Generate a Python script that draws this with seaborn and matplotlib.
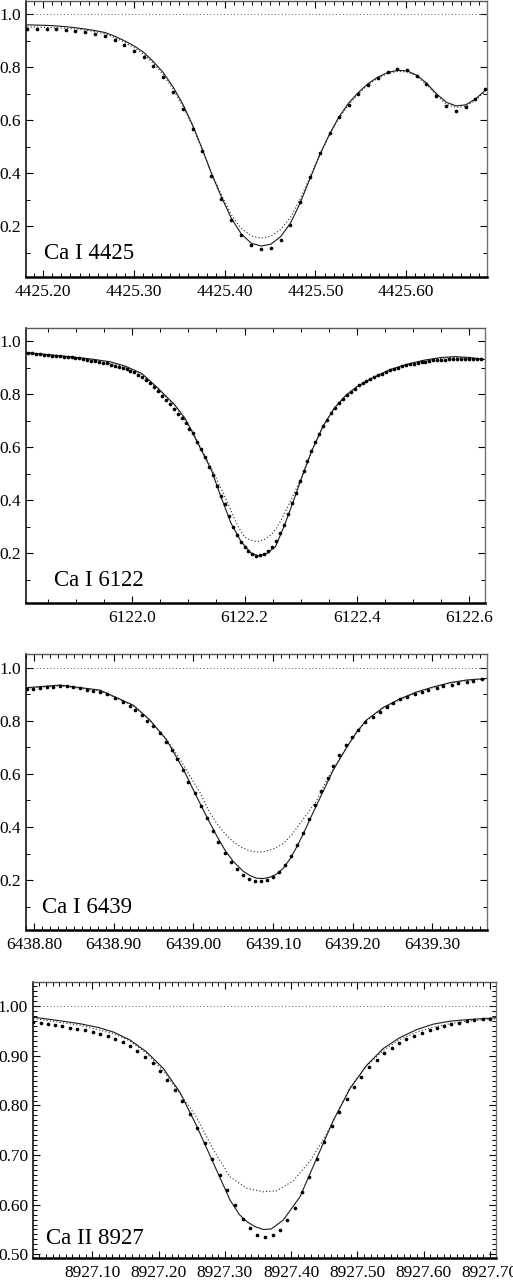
import numpy as np
import pandas as pd
import matplotlib
matplotlib.use("Agg")
import matplotlib.pyplot as plt
import seaborn as sns
from matplotlib.ticker import MultipleLocator, FormatStrFormatter

# ---------------- data ----------------
# Ca I 4425
x4425 = [4425.1824, 4425.1927, 4425.2037, 4425.2139, 4425.2249, 4425.2355, 4425.2465, 4425.2575,
         4425.2681, 4425.2788, 4425.2894, 4425.3004, 4425.3110, 4425.3212, 4425.3322, 4425.3432,
         4425.3542, 4425.3648, 4425.3751, 4425.3853, 4425.3963, 4425.4070, 4425.4179, 4425.4293,
         4425.4403, 4425.4509, 4425.4615, 4425.4722, 4425.4828, 4425.4938, 4425.5048, 4425.5158,
         4425.5260, 4425.5366, 4425.5473, 4425.5579, 4425.5685, 4425.5795, 4425.5901, 4425.6011,
         4425.6117, 4425.6223, 4425.6333, 4425.6440, 4425.6549, 4425.6656, 4425.6762, 4425.6868]
obs4425 = [0.943, 0.946, 0.946, 0.943, 0.941, 0.937, 0.932, 0.927, 0.918, 0.901, 0.883, 0.863,
           0.838, 0.803, 0.762, 0.707, 0.642, 0.567, 0.482, 0.391, 0.303, 0.225, 0.165, 0.128,
           0.112, 0.118, 0.148, 0.206, 0.292, 0.386, 0.475, 0.551, 0.611, 0.658, 0.698, 0.732,
           0.760, 0.782, 0.792, 0.789, 0.767, 0.735, 0.691, 0.654, 0.636, 0.649, 0.681, 0.719]
fit4425 = [0.960, 0.959, 0.958, 0.956, 0.953, 0.949, 0.944, 0.938, 0.931, 0.917, 0.900, 0.880,
           0.855, 0.822, 0.780, 0.725, 0.658, 0.580, 0.492, 0.400, 0.310, 0.232, 0.172, 0.135,
           0.125, 0.132, 0.160, 0.210, 0.285, 0.378, 0.470, 0.550, 0.613, 0.665, 0.705, 0.738,
           0.762, 0.780, 0.788, 0.786, 0.770, 0.740, 0.700, 0.668, 0.654, 0.658, 0.680, 0.712]
alt4425 = [0.952, 0.951, 0.950, 0.949, 0.947, 0.944, 0.940, 0.934, 0.926, 0.912, 0.894, 0.873,
           0.848, 0.815, 0.772, 0.717, 0.650, 0.575, 0.490, 0.402, 0.318, 0.245, 0.192, 0.163,
           0.155, 0.162, 0.187, 0.232, 0.300, 0.385, 0.470, 0.547, 0.608, 0.659, 0.700, 0.733,
           0.758, 0.776, 0.784, 0.782, 0.766, 0.735, 0.694, 0.661, 0.648, 0.652, 0.675, 0.708]

# Ca I 6122
x6122_obs = [6121.815, 6121.822, 6121.829, 6121.836, 6121.843, 6121.850, 6121.857, 6121.864,
             6121.871, 6121.878, 6121.885, 6121.892, 6121.899, 6121.906, 6121.913, 6121.920,
             6121.927, 6121.934, 6121.941, 6121.948, 6121.955, 6121.962, 6121.969, 6121.976,
             6121.983, 6121.990, 6121.997, 6122.004, 6122.011, 6122.018, 6122.025, 6122.032,
             6122.039, 6122.046, 6122.053, 6122.060, 6122.067, 6122.074, 6122.081, 6122.088,
             6122.095, 6122.102, 6122.109, 6122.116, 6122.123, 6122.130, 6122.137, 6122.144,
             6122.151, 6122.158, 6122.165, 6122.172, 6122.179, 6122.186, 6122.193, 6122.200,
             6122.207, 6122.214, 6122.221, 6122.228, 6122.235, 6122.242, 6122.249, 6122.256,
             6122.263, 6122.270, 6122.277, 6122.284, 6122.291, 6122.298, 6122.305, 6122.312,
             6122.319, 6122.326, 6122.333, 6122.340, 6122.347, 6122.354, 6122.361, 6122.368,
             6122.375, 6122.382, 6122.389, 6122.396, 6122.403, 6122.410, 6122.417, 6122.424,
             6122.431, 6122.438, 6122.445, 6122.452, 6122.459, 6122.466, 6122.473, 6122.480,
             6122.487, 6122.494, 6122.501, 6122.508, 6122.515, 6122.522, 6122.529, 6122.536,
             6122.543, 6122.550, 6122.557, 6122.564, 6122.571, 6122.578, 6122.585, 6122.592,
             6122.599, 6122.606, 6122.613, 6122.620]
obs6122 = [0.954, 0.953, 0.952, 0.950, 0.949, 0.947, 0.945, 0.944, 0.943, 0.941, 0.940, 0.938,
           0.937, 0.935, 0.932, 0.929, 0.926, 0.924, 0.922, 0.919, 0.916, 0.911, 0.906, 0.902,
           0.898, 0.894, 0.888, 0.882, 0.873, 0.864, 0.853, 0.840, 0.827, 0.810, 0.792, 0.779,
           0.763, 0.743, 0.725, 0.709, 0.692, 0.670, 0.652, 0.621, 0.595, 0.563, 0.527, 0.495,
           0.452, 0.416, 0.386, 0.340, 0.300, 0.269, 0.243, 0.225, 0.210, 0.198, 0.191, 0.193,
           0.199, 0.209, 0.225, 0.248, 0.278, 0.306, 0.350, 0.388, 0.428, 0.471, 0.512, 0.548,
           0.586, 0.618, 0.651, 0.680, 0.703, 0.727, 0.747, 0.765, 0.781, 0.796, 0.808, 0.821,
           0.834, 0.840, 0.848, 0.855, 0.864, 0.871, 0.876, 0.882, 0.890, 0.894, 0.900, 0.905,
           0.908, 0.912, 0.915, 0.918, 0.920, 0.922, 0.925, 0.927, 0.928, 0.929, 0.930, 0.931,
           0.931, 0.931, 0.931, 0.931, 0.931, 0.931, 0.932, 0.932]
x6122_fit = [6121.812, 6121.870, 6121.928, 6121.960, 6121.987, 6122.017, 6122.046, 6122.076,
             6122.094, 6122.105, 6122.123, 6122.141, 6122.158, 6122.176, 6122.194, 6122.211,
             6122.225, 6122.240, 6122.255, 6122.270, 6122.285, 6122.300, 6122.320, 6122.340,
             6122.360, 6122.380, 6122.400, 6122.430, 6122.460, 6122.490, 6122.520, 6122.550,
             6122.575, 6122.600, 6122.627]
fit6122 = [0.956, 0.945, 0.932, 0.922, 0.906, 0.878, 0.822, 0.759, 0.709, 0.665, 0.589, 0.514,
           0.413, 0.313, 0.244, 0.202, 0.190, 0.200, 0.225, 0.300, 0.385, 0.475, 0.588, 0.680,
           0.748, 0.795, 0.828, 0.864, 0.893, 0.913, 0.928, 0.938, 0.941, 0.938, 0.930]
x6122_alt = [6121.812, 6121.870, 6121.928, 6121.987, 6122.017, 6122.046, 6122.076, 6122.105,
             6122.123, 6122.141, 6122.158, 6122.170, 6122.180, 6122.190, 6122.200, 6122.210,
             6122.222, 6122.235, 6122.247, 6122.256, 6122.265, 6122.277, 6122.288, 6122.300,
             6122.320, 6122.340, 6122.360, 6122.380, 6122.400, 6122.430, 6122.460, 6122.490,
             6122.520, 6122.550, 6122.575, 6122.600, 6122.627]
alt6122 = [0.955, 0.944, 0.930, 0.903, 0.874, 0.819, 0.757, 0.668, 0.595, 0.522, 0.445, 0.390,
           0.340, 0.295, 0.263, 0.250, 0.244, 0.252, 0.269, 0.292, 0.325, 0.376, 0.425, 0.480,
           0.590, 0.680, 0.746, 0.793, 0.826, 0.862, 0.891, 0.911, 0.926, 0.935, 0.938, 0.936,
           0.931]

# Ca I 6439
x6439_obs = [6438.7908, 6438.7992, 6438.8075, 6438.8159, 6438.8243, 6438.8326, 6438.8410,
             6438.8494, 6438.8577, 6438.8661, 6438.8745, 6438.8828, 6438.8912, 6438.9017,
             6438.9121, 6438.9205, 6438.9268, 6438.9351, 6438.9414, 6438.9498, 6438.9582,
             6438.9653, 6438.9728, 6438.9791, 6438.9874, 6438.9937, 6439.0021, 6439.0093,
             6439.0168, 6439.0243, 6439.0314, 6439.0398, 6439.0473, 6439.0552, 6439.0628,
             6439.0699, 6439.0778, 6439.0850, 6439.0921, 6439.1004, 6439.1080, 6439.1151,
             6439.1226, 6439.1298, 6439.1373, 6439.1452, 6439.1528, 6439.1603, 6439.1686,
             6439.1757, 6439.1833, 6439.1916, 6439.1996, 6439.2071, 6439.2155, 6439.2259,
             6439.2343, 6439.2427, 6439.2510, 6439.2594, 6439.2686, 6439.2782, 6439.2866,
             6439.2950, 6439.3054, 6439.3138, 6439.3243, 6439.3326, 6439.3431, 6439.3515,
             6439.3619]
obs6439 = [0.920, 0.922, 0.925, 0.927, 0.928, 0.930, 0.930, 0.927, 0.923, 0.918, 0.913, 0.907,
           0.900, 0.888, 0.871, 0.857, 0.841, 0.822, 0.800, 0.780, 0.753, 0.721, 0.690, 0.655,
           0.615, 0.570, 0.527, 0.479, 0.433, 0.386, 0.342, 0.303, 0.269, 0.240, 0.219, 0.206,
           0.197, 0.196, 0.200, 0.210, 0.229, 0.257, 0.291, 0.332, 0.378, 0.429, 0.483, 0.535,
           0.586, 0.630, 0.671, 0.709, 0.738, 0.765, 0.794, 0.815, 0.834, 0.851, 0.866, 0.881,
           0.891, 0.901, 0.910, 0.916, 0.925, 0.931, 0.937, 0.944, 0.947, 0.951, 0.956]
x6439_fit = [6438.7908, 6438.8326, 6438.8828, 6438.9247, 6438.9456, 6438.9665, 6438.9874,
             6438.9979, 6439.0084, 6439.0188, 6439.0293, 6439.0397, 6439.0502, 6439.0628,
             6439.0712, 6439.0796, 6439.0880, 6439.0963, 6439.1046, 6439.1130, 6439.1214,
             6439.1298, 6439.1381, 6439.1465, 6439.1548, 6439.1632, 6439.1757, 6439.1925,
             6439.2050, 6439.2176, 6439.2385, 6439.2594, 6439.2803, 6439.3013, 6439.3222,
             6439.3431, 6439.3686]
fit6439 = [0.925, 0.935, 0.916, 0.859, 0.803, 0.728, 0.618, 0.553, 0.489, 0.427, 0.367, 0.313,
           0.270, 0.233, 0.217, 0.207, 0.206, 0.211, 0.223, 0.245, 0.280, 0.325, 0.375, 0.430,
           0.483, 0.536, 0.615, 0.700, 0.758, 0.804, 0.851, 0.883, 0.909, 0.928, 0.944, 0.954,
           0.960]
x6439_alt = [6438.7908, 6438.8326, 6438.8828, 6438.9247, 6438.9456, 6438.9665, 6438.9833,
             6438.9958, 6439.0084, 6439.0188, 6439.0293, 6439.0397, 6439.0502, 6439.0607,
             6439.0712, 6439.0796, 6439.0879, 6439.1004, 6439.1130, 6439.1235, 6439.1340,
             6439.1445, 6439.1550, 6439.1674, 6439.1799, 6439.1925, 6439.2050, 6439.2176,
             6439.2385, 6439.2594, 6439.2803, 6439.3013, 6439.3222, 6439.3431, 6439.3686]
alt6439 = [0.923, 0.932, 0.913, 0.857, 0.802, 0.730, 0.655, 0.592, 0.530, 0.465, 0.414, 0.375,
           0.344, 0.323, 0.310, 0.306, 0.307, 0.317, 0.338, 0.370, 0.414, 0.456, 0.501, 0.577,
           0.640, 0.700, 0.757, 0.801, 0.848, 0.880, 0.906, 0.926, 0.942, 0.952, 0.958]

# Ca II 8927
x8927_obs = [8927.011, 8927.022, 8927.033, 8927.044, 8927.055, 8927.066, 8927.077, 8927.089,
             8927.101, 8927.112, 8927.123, 8927.134, 8927.146, 8927.157, 8927.168, 8927.179,
             8927.191, 8927.202, 8927.213, 8927.225, 8927.236, 8927.247, 8927.258, 8927.270,
             8927.281, 8927.293, 8927.304, 8927.315, 8927.327, 8927.338, 8927.349, 8927.361,
             8927.372, 8927.383, 8927.394, 8927.406, 8927.417, 8927.427, 8927.439, 8927.450,
             8927.461, 8927.473, 8927.484, 8927.495, 8927.506, 8927.518, 8927.529, 8927.540,
             8927.552, 8927.563, 8927.574, 8927.586, 8927.597, 8927.609, 8927.620, 8927.631,
             8927.642, 8927.654, 8927.665, 8927.676, 8927.689, 8927.700]
obs8927 = [0.968, 0.967, 0.965, 0.963, 0.960, 0.957, 0.954, 0.952, 0.948, 0.945, 0.941, 0.935,
           0.928, 0.919, 0.909, 0.897, 0.885, 0.869, 0.851, 0.831, 0.809, 0.782, 0.754, 0.725,
           0.692, 0.660, 0.630, 0.599, 0.572, 0.552, 0.539, 0.534, 0.538, 0.549, 0.569, 0.594,
           0.625, 0.656, 0.692, 0.726, 0.758, 0.787, 0.814, 0.838, 0.858, 0.877, 0.891, 0.905,
           0.916, 0.926, 0.934, 0.941, 0.946, 0.952, 0.956, 0.960, 0.964, 0.967, 0.970, 0.972,
           0.974, 0.975]
x8927_fit = [8927.0110, 8927.0450, 8927.0810, 8927.1100, 8927.1320, 8927.1570, 8927.1820,
             8927.2070, 8927.2320, 8927.2570, 8927.2830, 8927.3080, 8927.3220, 8927.3330,
             8927.3450, 8927.3580, 8927.3700, 8927.3882, 8927.4134, 8927.4385, 8927.4637,
             8927.4888, 8927.5140, 8927.5391, 8927.5642, 8927.5894, 8927.6146, 8927.6397,
             8927.6649, 8927.7090]
fit8927 = [0.978, 0.972, 0.965, 0.957, 0.948, 0.932, 0.908, 0.875, 0.827, 0.760, 0.683, 0.609,
           0.580, 0.566, 0.556, 0.550, 0.551, 0.569, 0.616, 0.693, 0.770, 0.834, 0.881, 0.915,
           0.937, 0.953, 0.964, 0.970, 0.973, 0.977]
x8927_alt = [8927.0110, 8927.0810, 8927.1320, 8927.1570, 8927.1820, 8927.2070, 8927.2320,
             8927.2570, 8927.2830, 8927.3080, 8927.3330, 8927.3580, 8927.3782, 8927.4033,
             8927.4285, 8927.4486, 8927.4637, 8927.4888, 8927.5140, 8927.5391, 8927.5642,
             8927.5894, 8927.6146, 8927.6397, 8927.6649, 8927.7090]
alt8927 = [0.975, 0.962, 0.945, 0.930, 0.905, 0.870, 0.825, 0.777, 0.710, 0.656, 0.633, 0.626,
           0.628, 0.648, 0.688, 0.731, 0.768, 0.836, 0.880, 0.911, 0.933, 0.948, 0.958, 0.965,
           0.970, 0.975]

labels = ["Ca I 4425", "Ca I 6122", "Ca I 6439", "Ca II 8927"]

# ---------------- style ----------------
sns.set_theme(style="ticks")
plt.rcParams['font.family'] = ['Liberation Serif', 'DejaVu Serif']
plt.rcParams['axes.facecolor'] = 'white'

W, H = 513, 1281
fig = plt.figure(figsize=(W / 100, H / 100), dpi=100)

def fpos(l, r, t, b):
    return [l / W, 1 - b / H, (r - l) / W, (b - t) / H]

panels = [
    dict(obs=(x4425, obs4425), fit=(x4425, fit4425), alt=(x4425, alt4425),
         pos=fpos(26, 487, 1, 277), xlim=(4425.181, 4425.689), ylim=(0.008, 1.050),
         xmaj=0.1, xmin=0.01, ymaj=0.2, ymin=0.1, xfmt='%.2f', yfmt='%.1f',
         cont=True, txt=(0.039, 0.064)),
    dict(obs=(x6122_obs, obs6122), fit=(x6122_fit, fit6122), alt=(x6122_alt, alt6122),
         pos=fpos(26, 485, 328, 603), xlim=(6121.811, 6122.628), ylim=(0.013, 1.049),
         xmaj=0.2, xmin=0.05, ymaj=0.2, ymin=0.1, xfmt='%.1f', yfmt='%.1f',
         cont=False, txt=(0.062, 0.063)),
    dict(obs=(x6439_obs, obs6439), fit=(x6439_fit, fit6439), alt=(x6439_alt, alt6439),
         pos=fpos(26, 487, 654, 930), xlim=(6438.790, 6439.3686), ylim=(0.012, 1.052),
         xmaj=0.1, xmin=0.01, ymaj=0.2, ymin=0.1, xfmt='%.2f', yfmt='%.1f',
         cont=True, txt=(0.035, 0.063)),
    dict(obs=(x8927_obs, obs8927), fit=(x8927_fit, fit8927), alt=(x8927_alt, alt8927),
         pos=fpos(33, 496, 982, 1258), xlim=(8927.0105, 8927.7092), ylim=(0.4925, 1.049),
         xmaj=0.1, xmin=0.01, ymaj=0.1, ymin=0.01, xfmt='%.2f', yfmt='%.2f',
         cont=True, txt=(0.028, 0.050)),
]

for p, lab in zip(panels, labels):
    ax = fig.add_axes(p['pos'])
    if p['cont']:
        ax.axhline(1.0, color='0.35', lw=0.7, ls=(0, (1, 2.5)), zorder=1)
    sns.lineplot(x=p['alt'][0], y=p['alt'][1], ax=ax, color='0.15', lw=0.8,
                 ls=(0, (1, 2)), sort=False, errorbar=None, zorder=2)
    sns.lineplot(x=p['fit'][0], y=p['fit'][1], ax=ax, color='0.1', lw=0.8,
                 sort=False, errorbar=None, zorder=3)
    sns.scatterplot(x=p['obs'][0], y=p['obs'][1], ax=ax, color='black', s=7,
                    linewidth=0, zorder=4)
    ax.set_xlim(*p['xlim'])
    ax.set_ylim(*p['ylim'])
    ax.xaxis.set_major_locator(MultipleLocator(p['xmaj']))
    ax.xaxis.set_minor_locator(MultipleLocator(p['xmin']))
    ax.yaxis.set_major_locator(MultipleLocator(p['ymaj']))
    ax.yaxis.set_minor_locator(MultipleLocator(p['ymin']))
    ax.xaxis.set_major_formatter(FormatStrFormatter(p['xfmt']))
    ax.yaxis.set_major_formatter(FormatStrFormatter(p['yfmt']))
    ax.tick_params(which='both', direction='in', top=True, right=True,
                   labelsize=12.5, colors='black', labelcolor='black')
    ax.tick_params(which='major', length=5, width=0.8)
    ax.tick_params(which='minor', length=3, width=0.7)
    ax.tick_params(axis='x', which='major', pad=5)
    ax.tick_params(axis='y', which='major', pad=3.5)
    for t in ax.yaxis.get_ticklines(minor=False)[1::2]:
        t.set_color('0.6')
    for t in ax.yaxis.get_ticklines(minor=True)[1::2]:
        t.set_color('0.6')
    ax.spines['bottom'].set_linewidth(1.8)
    ax.spines['bottom'].set_color('black')
    ax.spines['left'].set_linewidth(1.1)
    ax.spines['left'].set_color('black')
    ax.spines['top'].set_linewidth(1.0)
    ax.spines['top'].set_color('0.35')
    ax.spines['right'].set_linewidth(1.0)
    ax.spines['right'].set_color('0.45')
    for s in ax.spines.values():
        s.set_visible(True)
    ax.set_xlabel('')
    ax.set_ylabel('')
    ax.text(p['txt'][0], p['txt'][1], lab, transform=ax.transAxes,
            fontsize=16.5, ha='left', va='baseline', color='black')

fig.savefig('out.png', dpi=100)
